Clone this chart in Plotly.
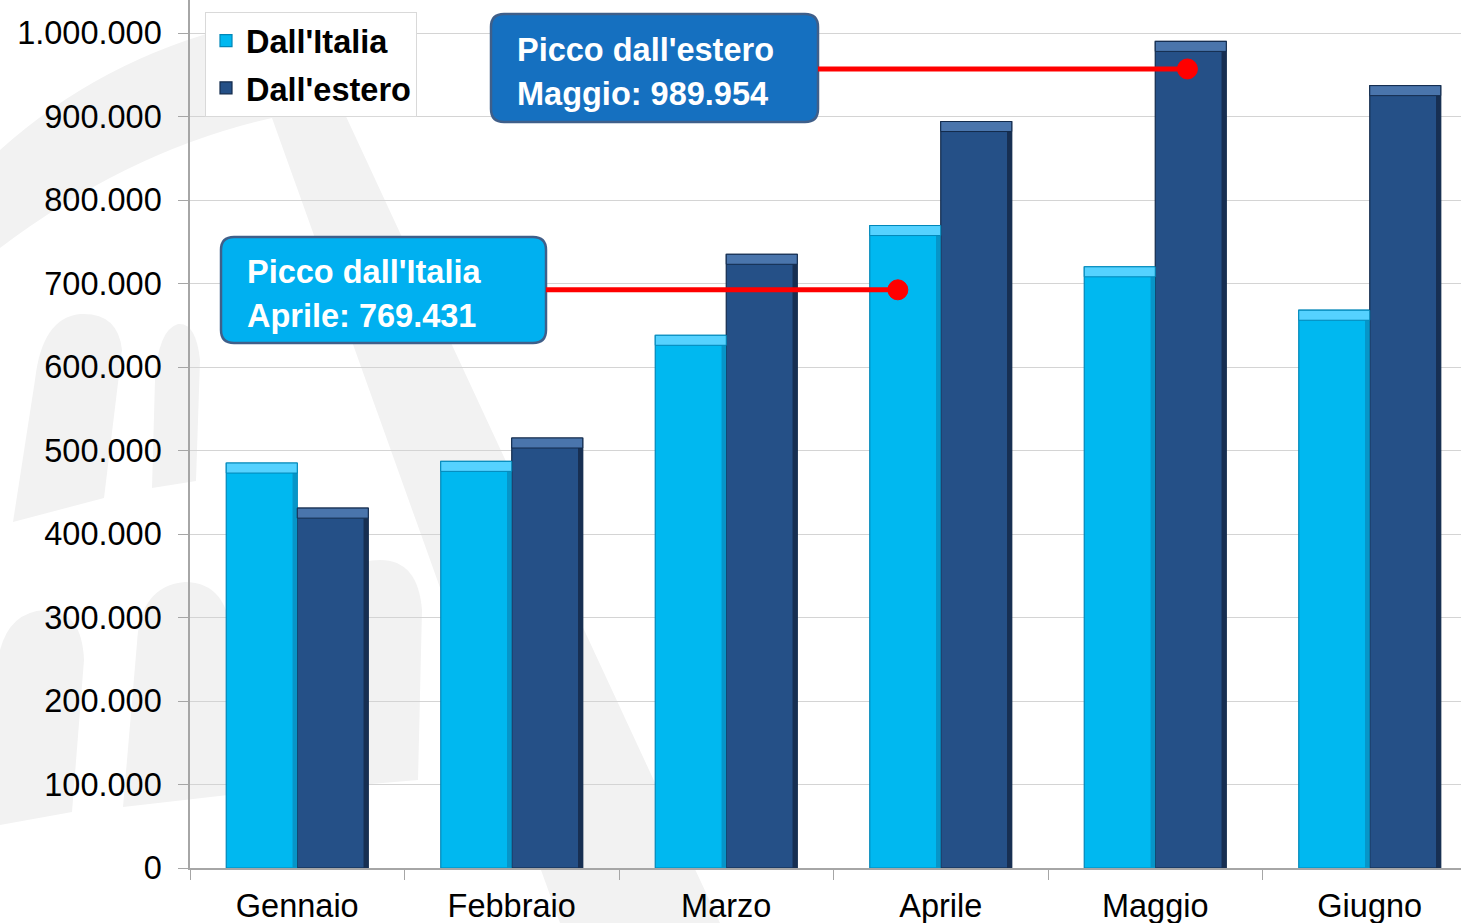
import plotly.graph_objects as go

# ---------------- data ----------------
months = ["Gennaio", "Febbraio", "Marzo", "Aprile", "Maggio", "Giugno"]
italia = [485000, 487000, 638000, 769431, 720000, 668000]
estero = [431000, 515000, 735000, 894000, 989954, 937000]
series_names = ["Dall'Italia", "Dall'estero"]
y_ticks = [0, 100000, 200000, 300000, 400000, 500000, 600000, 700000, 800000, 900000, 1000000]

# ---------------- layout constants ----------------
W, H = 1461, 923
ML, MR, MT, MB = 190, 0, 0, 55
PW, PH = W - ML - MR, H - MT - MB
CAT_PX = 214.5
XR = [-0.5, -0.5 + PW / CAT_PX]
YR = [0, 1000000 * PH / 835.0]
BW = 0.331
EDGE = 0.022
CAP = 12000
FONT = "Liberation Sans, Arial, sans-serif"
FS = 32.5

C_IT, C_IT_CAP, C_IT_EDGE, C_IT_SIDE = "#00B8F0", "#55D2FF", "#0087B8", "#0795C8"
C_ES, C_ES_CAP, C_ES_EDGE, C_ES_SIDE = "#255087", "#4A75AC", "#132B4C", "#172F52"
C_WM = "#F2F2F2"


def px2paper(px, py):
    return (px - ML) / PW, (H - MB - py) / PH


def px2xdata(px):
    return XR[0] + (px - ML) / CAT_PX


def path_px(cmds):
    # cmds: list of (letter, [(px,py), ...]) in pixel coords -> paper path string
    out = []
    for letter, pts in cmds:
        if letter == "Z":
            out.append("Z")
            continue
        coords = " ".join("{:.5f},{:.5f}".format(*px2paper(x, y)) for x, y in pts)
        out.append(f"{letter}{coords}")
    return " ".join(out)


def rrect_path(x0, y0, x1, y1, r):
    rx, ry = r / PW, r / PH
    a0, b0 = px2paper(x0, y1)
    a1, b1 = px2paper(x1, y0)
    return (f"M {a0+rx},{b0} L {a1-rx},{b0} Q {a1},{b0} {a1},{b0+ry} "
            f"L {a1},{b1-ry} Q {a1},{b1} {a1-rx},{b1} L {a0+rx},{b1} "
            f"Q {a0},{b1} {a0},{b1-ry} L {a0},{b0+ry} Q {a0},{b0} {a0+rx},{b0} Z")


fig = go.Figure()

# main bars
fig.add_trace(go.Bar(x=months, y=italia, name=series_names[0], width=BW, offset=-BW, legendgroup="a",
                     marker=dict(color=C_IT, line=dict(color=C_IT_EDGE, width=1.2))))
fig.add_trace(go.Bar(x=months, y=estero, name=series_names[1], width=BW, offset=0, legendgroup="b",
                     marker=dict(color=C_ES, line=dict(color=C_ES_EDGE, width=1.2))))
# darker right-hand bevel strips
fig.add_trace(go.Bar(x=months, y=[v - CAP for v in italia], width=EDGE, offset=-EDGE,
                     showlegend=False, hoverinfo="skip", marker=dict(color=C_IT_SIDE, line=dict(width=0))))
fig.add_trace(go.Bar(x=months, y=[v - CAP for v in estero], width=EDGE, offset=BW - EDGE,
                     showlegend=False, hoverinfo="skip", marker=dict(color=C_ES_SIDE, line=dict(width=0))))
# lighter top bevel caps
fig.add_trace(go.Bar(x=months, y=[CAP] * len(months), base=[v - CAP for v in italia],
                     width=BW, offset=-BW, showlegend=False, hoverinfo="skip",
                     marker=dict(color=C_IT_CAP, line=dict(color=C_IT_EDGE, width=1))))
fig.add_trace(go.Bar(x=months, y=[CAP] * len(months), base=[v - CAP for v in estero],
                     width=BW, offset=0, showlegend=False, hoverinfo="skip",
                     marker=dict(color=C_ES_CAP, line=dict(color=C_ES_EDGE, width=1))))

shapes = []
annotations = []

# ---------------- faint background watermark ----------------
watermark = [
    [("M", [(0, 150)]), ("Q", [(100, 60), (235, 26)]), ("L", [(305, 28)]), ("L", [(720, 923)]),
     ("L", [(560, 923)]), ("L", [(272, 118)]), ("Q", [(130, 150), (0, 248)]), ("Z", [])],
    [("M", [(13, 522)]), ("L", [(104, 498)]), ("L", [(122, 350)]), ("Q", [(118, 312), (80, 314)]),
     ("Q", [(42, 318), (35, 380)]), ("Z", [])],
    [("M", [(152, 488)]), ("L", [(196, 481)]), ("L", [(200, 360)]), ("Q", [(196, 322), (178, 324)]),
     ("Q", [(158, 330), (155, 380)]), ("Z", [])],
    [("M", [(0, 825)]), ("L", [(72, 812)]), ("L", [(84, 660)]), ("Q", [(82, 610), (45, 610)]),
     ("Q", [(10, 612), (0, 650)]), ("Z", [])],
    [("M", [(123, 807)]), ("L", [(228, 795)]), ("L", [(232, 640)]), ("Q", [(228, 582), (185, 582)]),
     ("Q", [(140, 586), (137, 643)]), ("Z", [])],
    [("M", [(300, 790)]), ("L", [(418, 780)]), ("L", [(422, 610)]), ("Q", [(418, 560), (380, 560)]),
     ("Q", [(315, 562), (310, 620)]), ("Z", [])],
]
for wm in watermark:
    shapes.append(dict(type="path", xref="paper", yref="paper", path=path_px(wm),
                       fillcolor=C_WM, line=dict(width=0), layer="below"))

# ---------------- callouts ----------------
it_idx = italia.index(max(italia))
es_idx = estero.index(max(estero))


def fmt(v):
    return f"{v:,}".replace(",", ".")


callouts = [
    dict(box=(221, 237, 546, 343), fill="#00B0F0",
         lines=["Picco dall'Italia", f"{months[it_idx]}: {fmt(max(italia))}"],
         dx=it_idx - 0.2, dy=max(italia) - 77000, tx=245, ty=[272, 316]),
    dict(box=(491, 14, 818, 122), fill="#1570C0",
         lines=["Picco dall'estero", f"{months[es_idx]}: {fmt(max(estero))}"],
         dx=es_idx + 0.15, dy=max(estero) - 33000, tx=515, ty=[50, 94]),
]

for c in callouts:
    x0, y0, x1, y1 = c["box"]
    shapes.append(dict(type="path", xref="paper", yref="paper", path=rrect_path(x0, y0, x1, y1, 13),
                       fillcolor=c["fill"], line=dict(color="#3F5F8A", width=2.5), layer="above"))
    shapes.append(dict(type="line", xref="x", yref="y", x0=px2xdata(x1), x1=c["dx"],
                       y0=c["dy"], y1=c["dy"], line=dict(color="#FF0000", width=5), layer="above"))
    shapes.append(dict(type="circle", xref="x", yref="y", xsizemode="pixel", ysizemode="pixel",
                       xanchor=c["dx"], yanchor=c["dy"], x0=-10, x1=10, y0=-10, y1=10,
                       fillcolor="#FF0000", line=dict(color="#FF0000", width=1), layer="above"))
    for txt, ty in zip(c["lines"], c["ty"]):
        ax, ay = px2paper(c["tx"], ty)
        annotations.append(dict(xref="paper", yref="paper", x=ax, y=ay, xanchor="left", yanchor="middle",
                                text=f"<b>{txt}</b>", showarrow=False,
                                font=dict(family=FONT, size=FS, color="white")))

lx, ly = px2paper(205, 12)
fig.update_layout(
    width=W, height=H,
    margin=dict(l=ML, r=MR, t=MT, b=MB, pad=0),
    paper_bgcolor="white", plot_bgcolor="rgba(0,0,0,0)",
    barmode="overlay",
    separators=",.",
    font=dict(family=FONT, size=FS, color="black"),
    showlegend=True,
    legend=dict(x=lx, y=ly, xanchor="left", yanchor="top", bgcolor="white",
                bordercolor="#D9D9D9", borderwidth=1,
                font=dict(family=FONT, size=FS, color="black", weight="bold"),
                tracegroupgap=2, itemwidth=30),
    xaxis=dict(type="category", range=XR, showgrid=False, showline=True, linecolor="#A6A6A6",
               linewidth=1.5, ticks="outside", tickson="boundaries", ticklen=10, tickcolor="#A6A6A6",
               ticklabelstandoff=8,
               tickfont=dict(family=FONT, size=FS, color="black"), zeroline=False),
    yaxis=dict(range=YR, tickvals=y_ticks, tickformat=",d", showgrid=True, gridcolor="#D4D4D4",
               gridwidth=1, showline=True, linecolor="#A6A6A6", linewidth=1.5, ticks="outside",
               ticklen=10, tickcolor="#A6A6A6", zeroline=False, ticklabelstandoff=10,
               tickfont=dict(family=FONT, size=FS, color="black")),
    shapes=shapes,
    annotations=annotations,
)

fig.write_html("out.html")
